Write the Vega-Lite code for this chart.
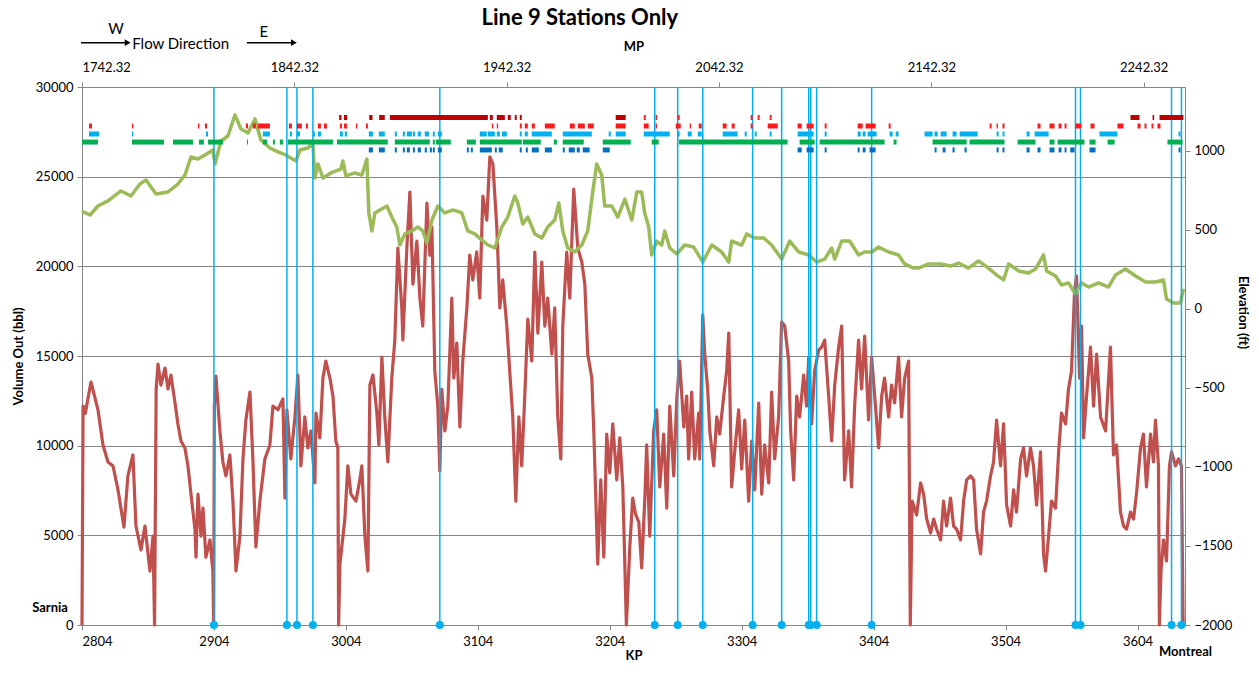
{
"$schema": "https://vega.github.io/schema/vega-lite/v6.json",
"width": 1103, "height": 538,
"autosize": "none",
"padding": {"left": 82, "top": 87, "right": 74, "bottom": 52},
"background": "white",
"config": {
  "font": "Lato",
  "view": {"stroke": null},
  "axis": {"labelFont": "Lato", "titleFont": "Lato", "labelColor": "#000", "titleColor": "#000", "domainColor": "#868686", "tickColor": "#868686", "gridColor": "#868686", "tickSize": 5, "labelFontSize": 13, "titleFontSize": 13, "titleFontWeight": "bold"}
},
"datasets": {
"one": [{"n": 1}],
"vol": [
{"kp":2804.0,"v":0},{"kp":2804.8,"v":12210},{"kp":2806.5,"v":11800},{"kp":2810.8,"v":13550},{"kp":2816.1,"v":12000},{"kp":2819.9,"v":10040},{"kp":2823.7,"v":9090},{"kp":2827.5,"v":8870},{"kp":2831.3,"v":7530},{"kp":2835.8,"v":5460},{"kp":2838.8,"v":8310},{"kp":2842.6,"v":9480},{"kp":2844.9,"v":5520},{"kp":2848.7,"v":4180},{"kp":2851.7,"v":5520},{"kp":2855.5,"v":3010},{"kp":2857.8,"v":4960},{"kp":2859.0,"v":0},{"kp":2860.2,"v":13160},{"kp":2861.6,"v":14550},{"kp":2863.8,"v":13380},{"kp":2866.9,"v":14330},{"kp":2869.2,"v":13160},{"kp":2871.4,"v":13940},{"kp":2874.5,"v":12380},{"kp":2876.7,"v":11210},{"kp":2879.0,"v":10260},{"kp":2882.0,"v":9870},{"kp":2884.3,"v":8870},{"kp":2886.6,"v":7300},{"kp":2889.6,"v":5350},{"kp":2890.4,"v":3790},{"kp":2891.9,"v":7300},{"kp":2894.2,"v":4960},{"kp":2895.7,"v":6520},{"kp":2897.9,"v":3790},{"kp":2901.0,"v":4740},{"kp":2903.2,"v":3010},{"kp":2903.8,"v":0},{"kp":2904.3,"v":12210},{"kp":2905.5,"v":13880},{"kp":2908.5,"v":10820},{"kp":2910.8,"v":9090},{"kp":2913.1,"v":8310},{"kp":2916.1,"v":9480},{"kp":2918.4,"v":6910},{"kp":2920.7,"v":3010},{"kp":2923.7,"v":4960},{"kp":2926.0,"v":9260},{"kp":2928.2,"v":11430},{"kp":2931.3,"v":12990},{"kp":2933.5,"v":9260},{"kp":2935.8,"v":4350},{"kp":2938.8,"v":6910},{"kp":2942.6,"v":9260},{"kp":2946.4,"v":10040},{"kp":2948.7,"v":12210},{"kp":2952.5,"v":12000},{"kp":2956.3,"v":12600},{"kp":2957.8,"v":7080},{"kp":2959.3,"v":12000},{"kp":2962.3,"v":9260},{"kp":2965.4,"v":11600},{"kp":2967.6,"v":13940},{"kp":2969.9,"v":8870},{"kp":2972.9,"v":11600},{"kp":2975.2,"v":9870},{"kp":2977.5,"v":10820},{"kp":2980.5,"v":7920},{"kp":2981.3,"v":11820},{"kp":2984.3,"v":10430},{"kp":2986.6,"v":13770},{"kp":2988.8,"v":14720},{"kp":2991.9,"v":13770},{"kp":2994.2,"v":12770},{"kp":2996.4,"v":10260},{"kp":2997.9,"v":9870},{"kp":2998.5,"v":0},{"kp":2999.5,"v":3400},{"kp":3003.2,"v":5910},{"kp":3005.5,"v":8870},{"kp":3007.8,"v":7300},{"kp":3011.6,"v":6910},{"kp":3014.6,"v":8090},{"kp":3016.1,"v":8870},{"kp":3018.4,"v":4960},{"kp":3020.7,"v":3010},{"kp":3022.2,"v":13380},{"kp":3024.5,"v":13940},{"kp":3027.5,"v":11820},{"kp":3029.0,"v":10040},{"kp":3031.3,"v":14940},{"kp":3033.5,"v":11600},{"kp":3035.8,"v":9090},{"kp":3038.8,"v":13770},{"kp":3041.1,"v":15890},{"kp":3043.4,"v":21020},{"kp":3046.4,"v":17680},{"kp":3047.2,"v":15890},{"kp":3050.2,"v":21020},{"kp":3052.5,"v":24140},{"kp":3054.8,"v":19010},{"kp":3057.8,"v":21410},{"kp":3060.1,"v":18230},{"kp":3062.3,"v":16670},{"kp":3065.4,"v":23530},{"kp":3067.6,"v":20630},{"kp":3069.2,"v":22190},{"kp":3071.4,"v":14160},{"kp":3073.7,"v":12210},{"kp":3075.2,"v":8590},{"kp":3076.7,"v":13160},{"kp":3079.0,"v":10820},{"kp":3081.3,"v":12210},{"kp":3084.3,"v":18230},{"kp":3085.8,"v":13770},{"kp":3088.1,"v":15720},{"kp":3090.4,"v":11040},{"kp":3092.6,"v":14720},{"kp":3095.7,"v":17680},{"kp":3097.9,"v":20630},{"kp":3100.2,"v":19240},{"kp":3103.2,"v":20800},{"kp":3105.5,"v":18230},{"kp":3107.8,"v":23920},{"kp":3110.8,"v":22580},{"kp":3113.1,"v":26100},{"kp":3115.4,"v":25710},{"kp":3118.4,"v":22190},{"kp":3120.7,"v":17680},{"kp":3122.9,"v":19240},{"kp":3126.0,"v":16670},{"kp":3128.2,"v":14160},{"kp":3130.5,"v":11600},{"kp":3132.8,"v":6910},{"kp":3135.1,"v":11600},{"kp":3137.3,"v":8870},{"kp":3139.6,"v":12770},{"kp":3141.9,"v":17060},{"kp":3144.9,"v":14720},{"kp":3147.2,"v":20800},{"kp":3149.5,"v":16280},{"kp":3152.5,"v":20240},{"kp":3154.8,"v":16670},{"kp":3157.0,"v":18230},{"kp":3160.1,"v":15110},{"kp":3162.3,"v":17680},{"kp":3164.6,"v":11600},{"kp":3166.9,"v":9260},{"kp":3168.4,"v":16670},{"kp":3171.4,"v":20800},{"kp":3173.7,"v":18230},{"kp":3176.7,"v":24310},{"kp":3179.8,"v":21020},{"kp":3182.8,"v":20240},{"kp":3185.1,"v":19010},{"kp":3187.3,"v":15110},{"kp":3190.4,"v":13770},{"kp":3191.9,"v":10820},{"kp":3194.9,"v":3400},{"kp":3197.2,"v":8090},{"kp":3199.5,"v":3790},{"kp":3201.7,"v":10650},{"kp":3204.0,"v":8480},{"kp":3206.3,"v":11210},{"kp":3209.3,"v":8090},{"kp":3211.6,"v":10430},{"kp":3213.9,"v":7700},{"kp":3216.6,"v":0},{"kp":3219.2,"v":4350},{"kp":3221.4,"v":7080},{"kp":3223.5,"v":6200},{"kp":3226.0,"v":5740},{"kp":3228.2,"v":3180},{"kp":3230.5,"v":6910},{"kp":3232.0,"v":10040},{"kp":3234.3,"v":4960},{"kp":3237.3,"v":10820},{"kp":3239.6,"v":12000},{"kp":3241.9,"v":7700},{"kp":3244.9,"v":10650},{"kp":3247.2,"v":6520},{"kp":3249.5,"v":12210},{"kp":3252.5,"v":8310},{"kp":3254.8,"v":12600},{"kp":3257.0,"v":14720},{"kp":3260.1,"v":11040},{"kp":3262.3,"v":12770},{"kp":3263.8,"v":9260},{"kp":3266.1,"v":12990},{"kp":3268.4,"v":9260},{"kp":3271.4,"v":11820},{"kp":3272.2,"v":9260},{"kp":3274.5,"v":17290},{"kp":3276.0,"v":15110},{"kp":3278.2,"v":13160},{"kp":3279.8,"v":10820},{"kp":3282.8,"v":8870},{"kp":3285.1,"v":11600},{"kp":3287.3,"v":10650},{"kp":3290.4,"v":12770},{"kp":3292.6,"v":14160},{"kp":3294.2,"v":16280},{"kp":3296.4,"v":7700},{"kp":3298.7,"v":9650},{"kp":3301.7,"v":12000},{"kp":3304.0,"v":8700},{"kp":3306.3,"v":11430},{"kp":3309.3,"v":6910},{"kp":3311.6,"v":10260},{"kp":3313.9,"v":7530},{"kp":3316.9,"v":12380},{"kp":3319.2,"v":7300},{"kp":3321.4,"v":10040},{"kp":3324.5,"v":7920},{"kp":3326.7,"v":12990},{"kp":3329.0,"v":9260},{"kp":3332.0,"v":11600},{"kp":3334.3,"v":16900},{"kp":3336.6,"v":16670},{"kp":3339.6,"v":14720},{"kp":3341.1,"v":10820},{"kp":3343.4,"v":8090},{"kp":3345.7,"v":12770},{"kp":3347.9,"v":11600},{"kp":3351.0,"v":13940},{"kp":3353.2,"v":12210},{"kp":3354.8,"v":14940},{"kp":3357.0,"v":11210},{"kp":3359.3,"v":14160},{"kp":3362.3,"v":15330},{"kp":3364.6,"v":15500},{"kp":3366.9,"v":15890},{"kp":3369.9,"v":12770},{"kp":3372.2,"v":10260},{"kp":3374.5,"v":13380},{"kp":3377.5,"v":15500},{"kp":3379.8,"v":16670},{"kp":3382.0,"v":8090},{"kp":3385.1,"v":10820},{"kp":3387.3,"v":7700},{"kp":3389.6,"v":12210},{"kp":3392.6,"v":15890},{"kp":3394.9,"v":13160},{"kp":3397.2,"v":16110},{"kp":3400.2,"v":11430},{"kp":3402.5,"v":14940},{"kp":3404.8,"v":12770},{"kp":3407.8,"v":9870},{"kp":3410.1,"v":12770},{"kp":3412.3,"v":13770},{"kp":3415.4,"v":11600},{"kp":3417.6,"v":13380},{"kp":3419.9,"v":12380},{"kp":3422.9,"v":14940},{"kp":3425.2,"v":11600},{"kp":3427.5,"v":13770},{"kp":3430.5,"v":14720},{"kp":3431.8,"v":0},{"kp":3433.2,"v":6910},{"kp":3436.6,"v":6130},{"kp":3439.6,"v":7920},{"kp":3441.9,"v":7300},{"kp":3444.2,"v":5910},{"kp":3447.2,"v":5130},{"kp":3449.5,"v":5910},{"kp":3451.7,"v":5350},{"kp":3454.8,"v":4740},{"kp":3457.0,"v":6910},{"kp":3459.3,"v":5520},{"kp":3462.3,"v":7080},{"kp":3464.6,"v":5520},{"kp":3466.9,"v":5350},{"kp":3469.9,"v":4740},{"kp":3472.2,"v":6910},{"kp":3474.5,"v":8090},{"kp":3477.5,"v":8310},{"kp":3479.8,"v":8090},{"kp":3482.0,"v":5350},{"kp":3485.1,"v":3960},{"kp":3487.3,"v":6300},{"kp":3489.6,"v":6910},{"kp":3492.6,"v":8310},{"kp":3494.9,"v":9090},{"kp":3497.2,"v":11430},{"kp":3500.2,"v":8870},{"kp":3502.5,"v":11210},{"kp":3504.8,"v":6690},{"kp":3507.8,"v":5520},{"kp":3510.1,"v":7530},{"kp":3512.3,"v":6300},{"kp":3515.4,"v":9260},{"kp":3517.6,"v":9870},{"kp":3519.9,"v":8310},{"kp":3522.9,"v":9870},{"kp":3525.2,"v":8870},{"kp":3527.5,"v":6690},{"kp":3530.5,"v":9650},{"kp":3532.8,"v":3960},{"kp":3534.3,"v":3010},{"kp":3536.6,"v":4960},{"kp":3538.8,"v":6910},{"kp":3541.9,"v":6520},{"kp":3544.2,"v":9650},{"kp":3546.4,"v":11820},{"kp":3549.5,"v":11210},{"kp":3551.7,"v":13160},{"kp":3554.0,"v":14160},{"kp":3556.3,"v":18620},{"kp":3557.8,"v":19460},{"kp":3560.1,"v":13770},{"kp":3561.6,"v":16670},{"kp":3563.1,"v":10430},{"kp":3565.4,"v":12770},{"kp":3568.4,"v":15500},{"kp":3570.7,"v":12210},{"kp":3573.0,"v":15110},{"kp":3576.0,"v":11600},{"kp":3579.8,"v":10820},{"kp":3583.5,"v":15500},{"kp":3585.8,"v":9480},{"kp":3588.1,"v":10040},{"kp":3591.1,"v":6300},{"kp":3593.4,"v":5520},{"kp":3595.7,"v":5350},{"kp":3598.7,"v":6300},{"kp":3601.0,"v":5910},{"kp":3603.2,"v":7300},{"kp":3606.3,"v":9870},{"kp":3608.5,"v":10650},{"kp":3610.8,"v":7700},{"kp":3613.9,"v":10650},{"kp":3616.1,"v":9090},{"kp":3617.6,"v":11430},{"kp":3619.9,"v":8870},{"kp":3620.6,"v":0},{"kp":3621.8,"v":3010},{"kp":3623.7,"v":4740},{"kp":3626.0,"v":3570},{"kp":3628.2,"v":8870},{"kp":3629.8,"v":9650},{"kp":3632.8,"v":8870},{"kp":3635.1,"v":9260},{"kp":3637.3,"v":8870},{"kp":3638.6,"v":0}
],
"elev": [
{"kp":2804.0,"e":610},{"kp":2804.8,"e":614},{"kp":2810.1,"e":595},{"kp":2816.1,"e":652},{"kp":2823.7,"e":684},{"kp":2833.5,"e":747},{"kp":2841.1,"e":715},{"kp":2847.9,"e":791},{"kp":2852.5,"e":816},{"kp":2860.1,"e":728},{"kp":2869.2,"e":741},{"kp":2876.7,"e":791},{"kp":2882.0,"e":848},{"kp":2886.6,"e":962},{"kp":2891.9,"e":949},{"kp":2897.2,"e":975},{"kp":2903.2,"e":1006},{"kp":2904.8,"e":918},{"kp":2909.3,"e":1063},{"kp":2914.6,"e":1095},{"kp":2919.9,"e":1228},{"kp":2924.5,"e":1139},{"kp":2929.8,"e":1114},{"kp":2935.1,"e":1203},{"kp":2939.6,"e":1070},{"kp":2946.4,"e":1019},{"kp":2952.5,"e":994},{"kp":2958.5,"e":975},{"kp":2966.1,"e":937},{"kp":2969.2,"e":1006},{"kp":2975.2,"e":1019},{"kp":2979.0,"e":1051},{"kp":2980.5,"e":829},{"kp":2982.8,"e":918},{"kp":2986.6,"e":829},{"kp":2992.6,"e":861},{"kp":3000.2,"e":886},{"kp":3001.7,"e":937},{"kp":3004.0,"e":842},{"kp":3010.8,"e":861},{"kp":3016.1,"e":848},{"kp":3019.9,"e":949},{"kp":3021.4,"e":608},{"kp":3023.7,"e":494},{"kp":3026.0,"e":608},{"kp":3029.8,"e":627},{"kp":3035.1,"e":652},{"kp":3038.8,"e":582},{"kp":3042.6,"e":519},{"kp":3044.9,"e":405},{"kp":3048.7,"e":475},{"kp":3054.0,"e":494},{"kp":3058.5,"e":519},{"kp":3062.3,"e":494},{"kp":3065.4,"e":418},{"kp":3069.2,"e":563},{"kp":3073.7,"e":652},{"kp":3079.0,"e":608},{"kp":3085.1,"e":627},{"kp":3091.9,"e":608},{"kp":3096.4,"e":494},{"kp":3101.7,"e":475},{"kp":3107.0,"e":437},{"kp":3111.6,"e":405},{"kp":3116.9,"e":386},{"kp":3122.2,"e":519},{"kp":3126.7,"e":582},{"kp":3132.0,"e":715},{"kp":3134.3,"e":671},{"kp":3138.1,"e":538},{"kp":3141.9,"e":582},{"kp":3147.2,"e":475},{"kp":3152.5,"e":449},{"kp":3157.0,"e":519},{"kp":3162.3,"e":563},{"kp":3165.4,"e":671},{"kp":3168.4,"e":494},{"kp":3172.2,"e":386},{"kp":3177.5,"e":361},{"kp":3182.8,"e":405},{"kp":3187.3,"e":494},{"kp":3191.1,"e":741},{"kp":3194.1,"e":918},{"kp":3197.9,"e":848},{"kp":3200.2,"e":652},{"kp":3205.5,"e":652},{"kp":3210.1,"e":582},{"kp":3215.4,"e":696},{"kp":3220.7,"e":563},{"kp":3224.5,"e":741},{"kp":3228.2,"e":741},{"kp":3230.5,"e":608},{"kp":3233.5,"e":519},{"kp":3235.8,"e":342},{"kp":3239.6,"e":430},{"kp":3243.4,"e":405},{"kp":3245.7,"e":494},{"kp":3249.5,"e":386},{"kp":3254.8,"e":348},{"kp":3260.8,"e":405},{"kp":3267.6,"e":392},{"kp":3274.5,"e":297},{"kp":3281.3,"e":405},{"kp":3288.8,"e":361},{"kp":3294.2,"e":297},{"kp":3296.4,"e":430},{"kp":3304.0,"e":405},{"kp":3307.8,"e":475},{"kp":3313.9,"e":449},{"kp":3320.7,"e":449},{"kp":3326.7,"e":405},{"kp":3334.3,"e":316},{"kp":3340.4,"e":430},{"kp":3347.2,"e":361},{"kp":3354.8,"e":342},{"kp":3360.8,"e":297},{"kp":3366.9,"e":316},{"kp":3372.2,"e":386},{"kp":3374.5,"e":316},{"kp":3379.8,"e":430},{"kp":3385.8,"e":430},{"kp":3392.6,"e":342},{"kp":3397.2,"e":361},{"kp":3402.5,"e":361},{"kp":3407.8,"e":392},{"kp":3415.4,"e":361},{"kp":3422.9,"e":342},{"kp":3427.5,"e":285},{"kp":3434.3,"e":259},{"kp":3438.1,"e":259},{"kp":3445.7,"e":285},{"kp":3454.8,"e":285},{"kp":3462.3,"e":272},{"kp":3468.4,"e":291},{"kp":3475.9,"e":259},{"kp":3483.5,"e":304},{"kp":3491.1,"e":259},{"kp":3497.2,"e":215},{"kp":3502.5,"e":184},{"kp":3506.3,"e":285},{"kp":3513.8,"e":241},{"kp":3521.4,"e":228},{"kp":3526.7,"e":253},{"kp":3532.8,"e":342},{"kp":3535.1,"e":241},{"kp":3541.9,"e":209},{"kp":3546.4,"e":152},{"kp":3551.7,"e":165},{"kp":3557.0,"e":95},{"kp":3561.6,"e":165},{"kp":3566.9,"e":139},{"kp":3574.5,"e":165},{"kp":3582.0,"e":139},{"kp":3587.3,"e":215},{"kp":3594.9,"e":253},{"kp":3602.5,"e":209},{"kp":3610.1,"e":171},{"kp":3617.6,"e":171},{"kp":3623.7,"e":184},{"kp":3626.0,"e":63},{"kp":3631.3,"e":38},{"kp":3636.6,"e":38},{"kp":3638.8,"e":127}
],
"st": [
{"kp":2904.0},{"kp":2959.3},{"kp":2966.9},{"kp":2979.0},{"kp":3075.2},{"kp":3238.1},{"kp":3255.5},{"kp":3274.5},{"kp":3312.3},{"kp":3334.3},{"kp":3354.8},{"kp":3356.3},{"kp":3360.8},{"kp":3402.5},{"kp":3557.0},{"kp":3560.8},{"kp":3629.8},{"kp":3637.3}
],
"mk": [
{"s":"DR","a":2998.9,"b":3000.7},{"s":"DR","a":3002.5,"b":3005.0},{"s":"DR","a":3021.7,"b":3024.2},{"s":"DR","a":3029.2,"b":3033.5},{"s":"DR","a":3037.3,"b":3111.6},{"s":"DR","a":3113.1,"b":3115.4},{"s":"DR","a":3118.4,"b":3124.5},{"s":"DR","a":3126.7,"b":3129.0},{"s":"DR","a":3132.0,"b":3133.5},{"s":"DR","a":3135.8,"b":3137.3},{"s":"DR","a":3208.5,"b":3216.1},{"s":"DR","a":3598.7,"b":3605.5},{"s":"DR","a":3615.4,"b":3616.6},{"s":"DR","a":3620.7,"b":3638.8},
{"s":"R1","a":3229.8,"b":3231.3},{"s":"R1","a":3238.8,"b":3240.0},{"s":"R1","a":3255.5,"b":3257.0},{"s":"R1","a":3310.8,"b":3312.3},{"s":"R1","a":3316.1,"b":3317.6},{"s":"R1","a":3325.2,"b":3326.7},
{"s":"R","a":2809.3,"b":2811.6},{"s":"R","a":2841.9,"b":2842.9},{"s":"R","a":2891.9,"b":2892.9},{"s":"R","a":2897.2,"b":2898.7},{"s":"R","a":2928.2,"b":2929.8},{"s":"R","a":2933.5,"b":2935.8},{"s":"R","a":2937.3,"b":2946.4},{"s":"R","a":2960.8,"b":2963.1},{"s":"R","a":2966.9,"b":2970.6},{"s":"R","a":2973.7,"b":2975.2},{"s":"R","a":2982.8,"b":2985.1},{"s":"R","a":2987.3,"b":2989.6},{"s":"R","a":2999.5,"b":3001.0},{"s":"R","a":3002.5,"b":3004.8},{"s":"R","a":3011.6,"b":3012.6},{"s":"R","a":3019.2,"b":3020.7},{"s":"R","a":3114.6,"b":3115.6},{"s":"R","a":3118.4,"b":3119.4},{"s":"R","a":3135.8,"b":3137.3},{"s":"R","a":3139.6,"b":3141.9},{"s":"R","a":3144.9,"b":3147.2},{"s":"R","a":3154.8,"b":3162.3},{"s":"R","a":3173.7,"b":3177.5},{"s":"R","a":3179.8,"b":3185.1},{"s":"R","a":3187.3,"b":3191.9},{"s":"R","a":3208.5,"b":3216.1},{"s":"R","a":3229.8,"b":3233.5},{"s":"R","a":3238.8,"b":3239.8},{"s":"R","a":3254.0,"b":3257.8},{"s":"R","a":3264.6,"b":3265.6},{"s":"R","a":3271.4,"b":3273.7},{"s":"R","a":3289.6,"b":3292.6},{"s":"R","a":3296.4,"b":3298.7},{"s":"R","a":3310.8,"b":3312.3},{"s":"R","a":3323.7,"b":3331.3},{"s":"R","a":3346.4,"b":3349.5},{"s":"R","a":3353.2,"b":3358.5},{"s":"R","a":3366.9,"b":3368.4},{"s":"R","a":3391.9,"b":3395.7},{"s":"R","a":3397.9,"b":3405.5},{"s":"R","a":3415.4,"b":3416.9},{"s":"R","a":3491.9,"b":3493.4},{"s":"R","a":3497.2,"b":3498.2},{"s":"R","a":3501.7,"b":3503.2},{"s":"R","a":3528.2,"b":3530.5},{"s":"R","a":3537.3,"b":3541.1},{"s":"R","a":3544.2,"b":3546.4},{"s":"R","a":3548.7,"b":3550.2},{"s":"R","a":3557.0,"b":3561.6},{"s":"R","a":3568.4,"b":3571.4},{"s":"R","a":3588.8,"b":3593.4},{"s":"R","a":3604.0,"b":3606.3},{"s":"R","a":3609.3,"b":3610.8},{"s":"R","a":3614.6,"b":3616.1},{"s":"R","a":3619.1,"b":3621.4},
{"s":"LB","a":2809.3,"b":2816.9},{"s":"LB","a":2841.9,"b":2842.9},{"s":"LB","a":2897.9,"b":2899.5},{"s":"LB","a":2941.1,"b":2946.4},{"s":"LB","a":2961.6,"b":2963.1},{"s":"LB","a":2966.9,"b":2969.2},{"s":"LB","a":2979.0,"b":2980.5},{"s":"LB","a":2982.8,"b":2985.1},{"s":"LB","a":2999.5,"b":3001.7},{"s":"LB","a":3003.2,"b":3004.8},{"s":"LB","a":3021.4,"b":3024.5},{"s":"LB","a":3029.0,"b":3033.5},{"s":"LB","a":3041.1,"b":3042.6},{"s":"LB","a":3047.2,"b":3048.7},{"s":"LB","a":3050.2,"b":3054.0},{"s":"LB","a":3054.8,"b":3056.3},{"s":"LB","a":3058.5,"b":3060.8},{"s":"LB","a":3063.8,"b":3066.9},{"s":"LB","a":3069.9,"b":3071.4},{"s":"LB","a":3073.7,"b":3076.7},{"s":"LB","a":3105.5,"b":3110.8},{"s":"LB","a":3111.6,"b":3116.9},{"s":"LB","a":3118.4,"b":3120.7},{"s":"LB","a":3122.2,"b":3126.0},{"s":"LB","a":3135.8,"b":3137.3},{"s":"LB","a":3139.6,"b":3141.9},{"s":"LB","a":3144.9,"b":3160.1},{"s":"LB","a":3168.4,"b":3190.4},{"s":"LB","a":3203.2,"b":3204.8},{"s":"LB","a":3208.5,"b":3216.1},{"s":"LB","a":3229.8,"b":3249.5},{"s":"LB","a":3255.5,"b":3257.0},{"s":"LB","a":3263.1,"b":3266.1},{"s":"LB","a":3270.7,"b":3273.7},{"s":"LB","a":3289.6,"b":3300.9},{"s":"LB","a":3306.3,"b":3307.8},{"s":"LB","a":3313.9,"b":3315.4},{"s":"LB","a":3325.2,"b":3326.7},{"s":"LB","a":3346.4,"b":3358.5},{"s":"LB","a":3366.9,"b":3368.4},{"s":"LB","a":3391.9,"b":3394.2},{"s":"LB","a":3395.7,"b":3397.9},{"s":"LB","a":3399.5,"b":3406.3},{"s":"LB","a":3416.1,"b":3418.4},{"s":"LB","a":3420.7,"b":3422.9},{"s":"LB","a":3442.6,"b":3448.7},{"s":"LB","a":3450.2,"b":3452.5},{"s":"LB","a":3454.8,"b":3459.3},{"s":"LB","a":3463.8,"b":3466.9},{"s":"LB","a":3469.2,"b":3482.8},{"s":"LB","a":3497.2,"b":3498.7},{"s":"LB","a":3501.7,"b":3503.2},{"s":"LB","a":3519.9,"b":3522.2},{"s":"LB","a":3526.0,"b":3536.6},{"s":"LB","a":3575.2,"b":3588.8},{"s":"LB","a":3635.1,"b":3636.6},
{"s":"G","a":2804.0,"b":2816.1},{"s":"G","a":2841.9,"b":2866.1},{"s":"G","a":2872.9,"b":2888.1},{"s":"G","a":2892.6,"b":2896.4},{"s":"G","a":2899.5,"b":2910.8},{"s":"G","a":2929.0,"b":2929.8},{"s":"G","a":2941.1,"b":2944.2},{"s":"G","a":2948.7,"b":2950.2},{"s":"G","a":2954.0,"b":2956.3},{"s":"G","a":2960.1,"b":2994.2},{"s":"G","a":2997.2,"b":3035.8},{"s":"G","a":3041.1,"b":3067.6},{"s":"G","a":3069.9,"b":3071.4},{"s":"G","a":3072.2,"b":3083.5},{"s":"G","a":3095.7,"b":3102.5},{"s":"G","a":3105.5,"b":3137.3},{"s":"G","a":3138.1,"b":3151.7},{"s":"G","a":3161.6,"b":3163.9},{"s":"G","a":3168.4,"b":3184.3},{"s":"G","a":3198.7,"b":3219.9},{"s":"G","a":3235.8,"b":3241.1},{"s":"G","a":3256.3,"b":3338.8},{"s":"G","a":3347.9,"b":3359.3},{"s":"G","a":3363.1,"b":3412.3},{"s":"G","a":3419.1,"b":3421.4},{"s":"G","a":3448.7,"b":3474.5},{"s":"G","a":3476.7,"b":3503.2},{"s":"G","a":3513.1,"b":3526.7},{"s":"G","a":3537.3,"b":3541.1},{"s":"G","a":3543.4,"b":3563.8},{"s":"G","a":3567.6,"b":3572.2},{"s":"G","a":3581.3,"b":3586.6},{"s":"G","a":3626.7,"b":3638.1},
{"s":"DB","a":3021.4,"b":3024.5},{"s":"DB","a":3029.0,"b":3033.5},{"s":"DB","a":3041.1,"b":3042.6},{"s":"DB","a":3047.2,"b":3048.7},{"s":"DB","a":3050.2,"b":3052.5},{"s":"DB","a":3054.8,"b":3056.3},{"s":"DB","a":3058.5,"b":3060.8},{"s":"DB","a":3063.8,"b":3065.4},{"s":"DB","a":3067.6,"b":3069.2},{"s":"DB","a":3069.9,"b":3071.4},{"s":"DB","a":3073.7,"b":3076.7},{"s":"DB","a":3095.7,"b":3097.2},{"s":"DB","a":3098.7,"b":3100.2},{"s":"DB","a":3105.5,"b":3114.6},{"s":"DB","a":3116.9,"b":3118.4},{"s":"DB","a":3119.9,"b":3122.9},{"s":"DB","a":3135.8,"b":3137.3},{"s":"DB","a":3140.4,"b":3141.9},{"s":"DB","a":3144.9,"b":3150.2},{"s":"DB","a":3154.8,"b":3160.1},{"s":"DB","a":3168.4,"b":3169.9},{"s":"DB","a":3172.9,"b":3177.5},{"s":"DB","a":3179.0,"b":3181.3},{"s":"DB","a":3183.5,"b":3188.8},{"s":"DB","a":3198.7,"b":3204.0},{"s":"DB","a":3346.4,"b":3349.5},{"s":"DB","a":3353.2,"b":3358.5},{"s":"DB","a":3366.9,"b":3368.4},{"s":"DB","a":3391.9,"b":3393.4},{"s":"DB","a":3395.7,"b":3397.9},{"s":"DB","a":3400.9,"b":3405.5},{"s":"DB","a":3450.2,"b":3451.7},{"s":"DB","a":3456.3,"b":3458.5},{"s":"DB","a":3463.8,"b":3465.4},{"s":"DB","a":3472.9,"b":3474.5},{"s":"DB","a":3497.2,"b":3498.7},{"s":"DB","a":3501.7,"b":3503.2},{"s":"DB","a":3519.9,"b":3522.2},{"s":"DB","a":3528.2,"b":3530.5},{"s":"DB","a":3537.3,"b":3541.1},{"s":"DB","a":3544.2,"b":3546.4},{"s":"DB","a":3548.7,"b":3550.2},{"s":"DB","a":3553.0,"b":3556.3},{"s":"DB","a":3567.6,"b":3572.2},{"s":"DB","a":3635.1,"b":3636.6}
],
"mp": [{"mp":1742.32},{"mp":2261.78}]
},
"layer": [
  {
    "data": {"name": "vol"},
    "mark": {"type": "line", "color": "#C0504D", "strokeWidth": 3.2, "strokeJoin": "round"},
    "encoding": {
      "x": {"field": "kp", "type": "quantitative", "scale": {"domain": [2804, 3640], "nice": false, "zero": false},
            "axis": {"orient": "bottom", "values": [2804, 2904, 3004, 3104, 3204, 3304, 3404, 3504, 3604], "format": "d", "grid": false, "title": "KP", "labelPadding": 5, "titlePadding": 1}},
      "y": {"field": "v", "type": "quantitative", "scale": {"domain": [0, 30000], "nice": false},
            "axis": {"orient": "left", "values": [0, 5000, 10000, 15000, 20000, 25000, 30000], "format": "d", "grid": true, "title": "Volume Out (bbl)", "labelPadding": 4, "titlePadding": 10}}
    }
  },
  {
    "data": {"name": "elev"},
    "mark": {"type": "line", "color": "#9BBB59", "strokeWidth": 3.5, "strokeJoin": "round"},
    "encoding": {
      "x": {"field": "kp", "type": "quantitative", "scale": {"domain": [2804, 3640], "nice": false, "zero": false}, "axis": null},
      "y": {"field": "e", "type": "quantitative", "scale": {"domain": [-2000, 1405], "nice": false, "zero": false},
            "axis": {"orient": "right", "values": [-2000, -1500, -1000, -500, 0, 500, 1000], "format": "d", "grid": false, "title": "Elevation (ft)", "labelPadding": 4, "titlePadding": 4, "titleY": 225}}
    }
  },
  {
    "layer": [
      {
        "data": {"name": "st"},
        "mark": {"type": "rule", "color": "#00B0F0", "strokeWidth": 1.5},
        "encoding": {
          "x": {"field": "kp", "type": "quantitative", "scale": {"domain": [2804, 3640], "nice": false, "zero": false}, "axis": null},
          "y": {"datum": 0, "type": "quantitative", "scale": {"domain": [0, 30000], "nice": false}, "axis": null},
          "y2": {"datum": 30000}
        }
      },
      {
        "data": {"name": "st"},
        "mark": {"type": "point", "shape": "circle", "filled": true, "color": "#00B0F0", "size": 64, "opacity": 1},
        "encoding": {
          "x": {"field": "kp", "type": "quantitative"},
          "y": {"datum": 0, "type": "quantitative"}
        }
      },
      {
        "data": {"name": "mk"},
        "transform": [{"filter": "datum.s == 'DR'"}],
        "mark": {"type": "rule", "color": "#C00000", "strokeWidth": 5, "strokeCap": "butt"},
        "encoding": {"x": {"field": "a", "type": "quantitative"}, "x2": {"field": "b"}, "y": {"datum": 28300, "type": "quantitative"}}
      },
      {
        "data": {"name": "mk"},
        "transform": [{"filter": "datum.s == 'R1'"}],
        "mark": {"type": "rule", "color": "#FF2020", "strokeWidth": 5, "strokeCap": "butt"},
        "encoding": {"x": {"field": "a", "type": "quantitative"}, "x2": {"field": "b"}, "y": {"datum": 28300, "type": "quantitative"}}
      },
      {
        "data": {"name": "mk"},
        "transform": [{"filter": "datum.s == 'R'"}],
        "mark": {"type": "rule", "color": "#FF1A1A", "strokeWidth": 5, "strokeCap": "butt"},
        "encoding": {"x": {"field": "a", "type": "quantitative"}, "x2": {"field": "b"}, "y": {"datum": 27825, "type": "quantitative"}}
      },
      {
        "data": {"name": "mk"},
        "transform": [{"filter": "datum.s == 'LB'"}],
        "mark": {"type": "rule", "color": "#00B0F0", "strokeWidth": 5, "strokeCap": "butt"},
        "encoding": {"x": {"field": "a", "type": "quantitative"}, "x2": {"field": "b"}, "y": {"datum": 27380, "type": "quantitative"}}
      },
      {
        "data": {"name": "mk"},
        "transform": [{"filter": "datum.s == 'G'"}],
        "mark": {"type": "rule", "color": "#00B050", "strokeWidth": 5, "strokeCap": "butt"},
        "encoding": {"x": {"field": "a", "type": "quantitative"}, "x2": {"field": "b"}, "y": {"datum": 26930, "type": "quantitative"}}
      },
      {
        "data": {"name": "mk"},
        "transform": [{"filter": "datum.s == 'DB'"}],
        "mark": {"type": "rule", "color": "#0070C0", "strokeWidth": 5, "strokeCap": "butt"},
        "encoding": {"x": {"field": "a", "type": "quantitative"}, "x2": {"field": "b"}, "y": {"datum": 26490, "type": "quantitative"}}
      },
      {
        "data": {"name": "one"},
        "mark": {"type": "text", "text": "Line 9 Stations Only", "fontSize": 22, "fontWeight": "bold", "align": "center", "baseline": "middle", "color": "#000"},
        "encoding": {"x": {"datum": 3181.3, "type": "quantitative"}, "y": {"datum": 33846, "type": "quantitative"}}
      },
      {
        "data": {"name": "one"},
        "mark": {"type": "text", "text": "W", "fontSize": 15, "align": "center", "baseline": "middle", "color": "#000"},
        "encoding": {"x": {"datum": 2829.8, "type": "quantitative"}, "y": {"datum": 33233, "type": "quantitative"}}
      },
      {
        "data": {"name": "one"},
        "mark": {"type": "text", "text": "E", "fontSize": 15, "align": "center", "baseline": "middle", "color": "#000"},
        "encoding": {"x": {"datum": 2941.8, "type": "quantitative"}, "y": {"datum": 33066, "type": "quantitative"}}
      },
      {
        "data": {"name": "one"},
        "mark": {"type": "text", "text": "Flow Direction", "fontSize": 15, "align": "left", "baseline": "middle", "color": "#000"},
        "encoding": {"x": {"datum": 2842.1, "type": "quantitative"}, "y": {"datum": 32397, "type": "quantitative"}}
      },
      {
        "data": {"name": "one"},
        "mark": {"type": "rule", "color": "#000", "strokeWidth": 1.5},
        "encoding": {"x": {"datum": 2803.2, "type": "quantitative"}, "x2": {"datum": 2837}, "y": {"datum": 32470, "type": "quantitative"}}
      },
      {
        "data": {"name": "one"},
        "mark": {"type": "point", "shape": "triangle-right", "filled": true, "color": "#000", "size": 45, "opacity": 1},
        "encoding": {"x": {"datum": 2838.6, "type": "quantitative"}, "y": {"datum": 32470, "type": "quantitative"}}
      },
      {
        "data": {"name": "one"},
        "mark": {"type": "rule", "color": "#000", "strokeWidth": 1.5},
        "encoding": {"x": {"datum": 2929.0, "type": "quantitative"}, "x2": {"datum": 2963}, "y": {"datum": 32470, "type": "quantitative"}}
      },
      {
        "data": {"name": "one"},
        "mark": {"type": "point", "shape": "triangle-right", "filled": true, "color": "#000", "size": 45, "opacity": 1},
        "encoding": {"x": {"datum": 2964.6, "type": "quantitative"}, "y": {"datum": 32470, "type": "quantitative"}}
      },
      {
        "data": {"name": "one"},
        "mark": {"type": "text", "text": "Sarnia", "fontSize": 13, "fontWeight": "bold", "align": "center", "baseline": "middle", "color": "#000"},
        "encoding": {"x": {"datum": 2779.8, "type": "quantitative"}, "y": {"datum": 948, "type": "quantitative"}}
      },
      {
        "data": {"name": "one"},
        "mark": {"type": "text", "text": "Montreal", "fontSize": 13, "fontWeight": "bold", "align": "center", "baseline": "middle", "color": "#000"},
        "encoding": {"x": {"datum": 3640.4, "type": "quantitative"}, "y": {"datum": -1506, "type": "quantitative"}}
      }
    ]
  },
  {
    "data": {"name": "mp"},
    "mark": {"type": "point", "opacity": 0},
    "encoding": {
      "x": {"field": "mp", "type": "quantitative", "scale": {"domain": [1742.32, 2261.78], "nice": false, "zero": false},
            "axis": {"orient": "top", "values": [1742.32, 1842.32, 1942.32, 2042.32, 2142.32, 2242.32], "format": ".2f", "grid": false, "title": "MP", "labelPadding": 8, "titlePadding": 8}}
    }
  }
],
"resolve": {"scale": {"x": "independent", "y": "independent"}, "axis": {"x": "independent", "y": "independent"}}
}
